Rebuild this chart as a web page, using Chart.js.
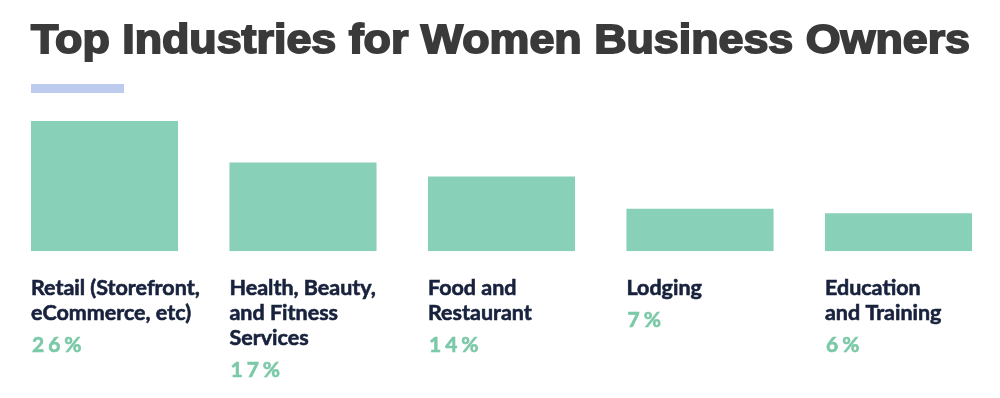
<!DOCTYPE html>
<html>
<head>
<meta charset="utf-8">
<script src="https://cdn.jsdelivr.net/npm/chart.js@4.4.1/dist/chart.umd.min.js"></script>
<style>
  html, body { margin: 0; padding: 0; background: #fff; }
  #wrap { width: 1000px; height: 398px; position: relative; }
</style>
</head>
<body>
<div id="wrap"><canvas id="chart"></canvas></div>
<script>
const title = 'Top Industries for Women Business Owners';
const categories = [
  ['Retail (Storefront,', 'eCommerce, etc)'],
  ['Health, Beauty,', 'and Fitness', 'Services'],
  ['Food and', 'Restaurant'],
  ['Lodging'],
  ['Education', 'and Training']
];
const shares = [26, 17, 14, 7, 6];
const shareLabels = ['26%', '17%', '14%', '7%', '6%'];

// bars in the original do not start at zero, the baseline sits a bit lower
const yMin = -2.23;
const yMax = 26;

const barColor = '#89d0b8';
const pctColor = '#7cc9a8';
const labelColor = '#18223d';

const decor = {
  id: 'decor',
  afterDraw(chart) {
    const ctx = chart.ctx;
    ctx.save();

    // title, squeezed to the width of the original
    ctx.font = 'bold 41px "Liberation Sans", Arial, sans-serif';
    ctx.fillStyle = '#3a3a3a';
    ctx.strokeStyle = '#3a3a3a';
    ctx.lineWidth = 1.8;
    ctx.textBaseline = 'alphabetic';
    const w = ctx.measureText(title).width;
    ctx.save();
    ctx.translate(31, 53);
    ctx.scale(939 / w, 1);
    ctx.fillText(title, 0, 0);
    ctx.strokeText(title, 0, 0);
    ctx.restore();

    // short accent rule under title
    ctx.fillStyle = '#bdcbef';
    ctx.fillRect(31, 84, 93, 9);

    // category names and percentages under each bar
    const meta = chart.getDatasetMeta(0);
    const bottom = chart.chartArea.bottom;
    ctx.lineWidth = 0.6;
    meta.data.forEach((bar, i) => {
      const x = bar.x - bar.width / 2;
      let y = bottom + 44;
      ctx.font = 'bold 21.5px Lato, sans-serif';
      ctx.fillStyle = labelColor;
      ctx.strokeStyle = labelColor;
      ctx.letterSpacing = '0px';
      chart.data.labels[i].forEach(line => {
        ctx.fillText(line, x, y);
        ctx.strokeText(line, x, y);
        y += 25;
      });
      ctx.font = 'bold 21px Lato, sans-serif';
      ctx.fillStyle = pctColor;
      ctx.strokeStyle = pctColor;
      ctx.letterSpacing = '4px';
      ctx.fillText(shareLabels[i], x + 1, y + 7);
      ctx.strokeText(shareLabels[i], x + 1, y + 7);
    });
    ctx.restore();
  }
};

new Chart(document.getElementById('chart'), {
  type: 'bar',
  data: {
    labels: categories,
    datasets: [{
      data: shares,
      base: yMin,
      backgroundColor: barColor,
      borderWidth: 0,
      barPercentage: 0.741,
      categoryPercentage: 1
    }]
  },
  options: {
    responsive: true,
    maintainAspectRatio: false,
    animation: false,
    layout: { padding: { top: 121, bottom: 146.7, left: 5.25, right: 2.25 } },
    scales: {
      x: { display: false },
      y: { display: false, min: yMin, max: yMax }
    },
    plugins: {
      legend: { display: false },
      tooltip: { enabled: false }
    }
  },
  plugins: [decor]
});
</script>
</body>
</html>
